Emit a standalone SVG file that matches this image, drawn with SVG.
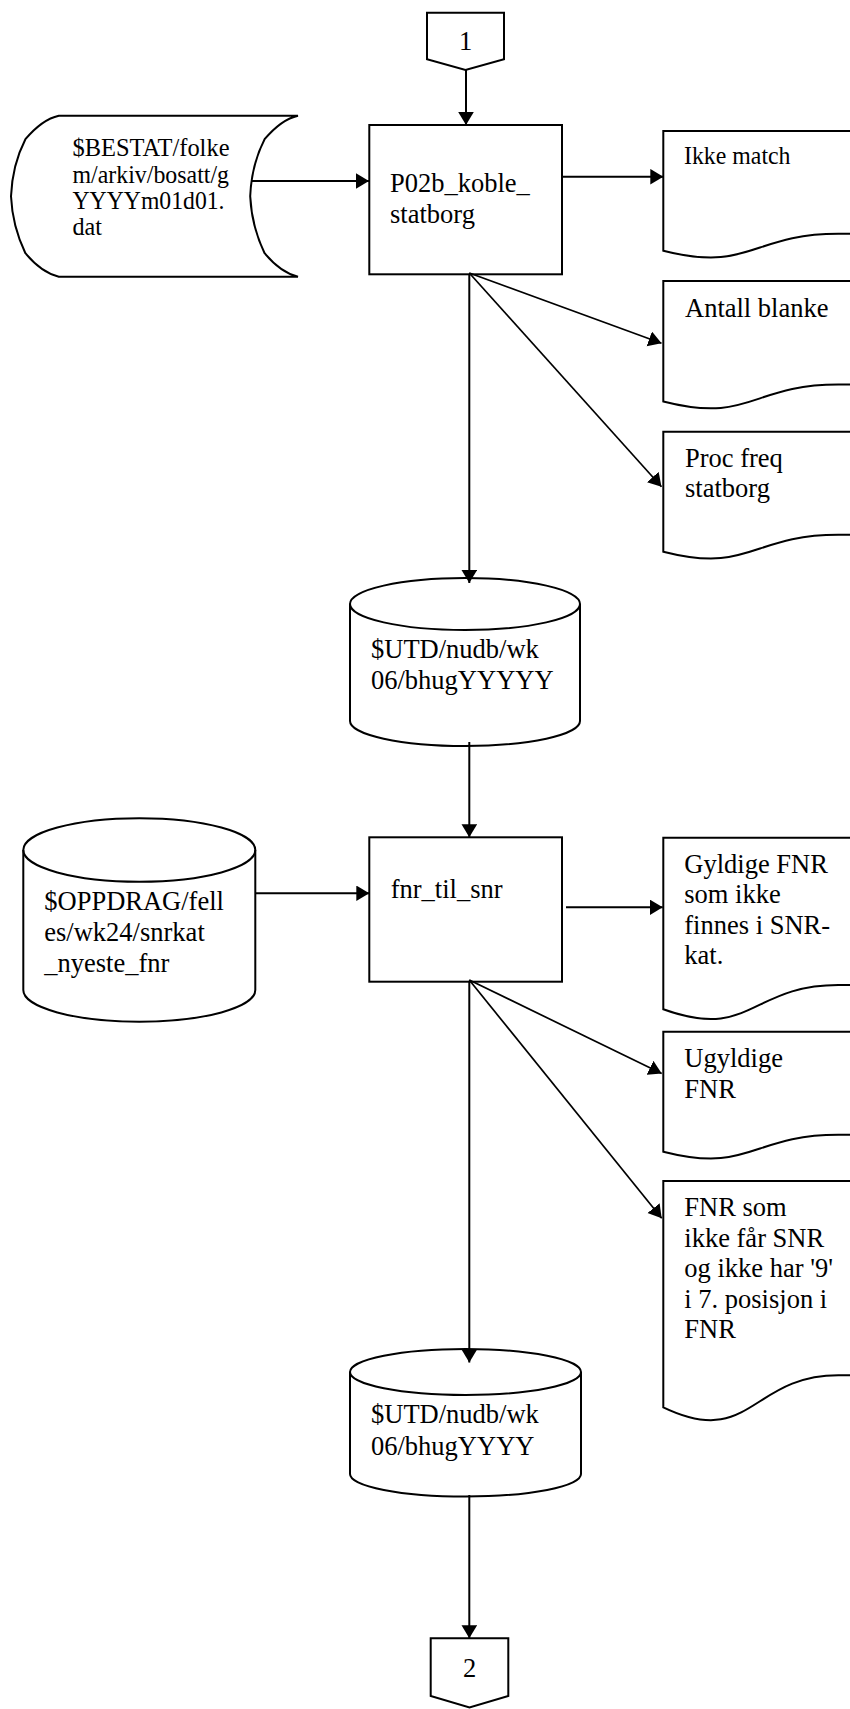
<svg xmlns="http://www.w3.org/2000/svg" width="850" height="1709" viewBox="0 0 850 1709">
  <style>
    .shape { fill: #ffffff; stroke: #000000; stroke-width: 2; }
    .edge { fill: none; stroke: #000000; stroke-width: 2; }
    .diag { fill: none; stroke: #000000; stroke-width: 1.7; }
    text { font-family: "Liberation Serif", "Times New Roman", serif; fill: #000000; font-size: 26.5px; }
    text.medium { font-size: 26px; }
    .mid { text-anchor: middle; }
  </style>
  <defs>
    <marker id="arrow" markerUnits="userSpaceOnUse" markerWidth="14" markerHeight="16" refX="13" refY="7.8" orient="auto">
      <path d="M0,0 L13,7.8 L0,15.6 Z" fill="#000000"/>
    </marker>
  </defs>

  <rect width="850" height="1709" fill="#ffffff"/>

  <!-- off-page connector 1 -->
  <g id="conn1">
    <path class="shape" d="M427,12.7 H504 V59.3 L465.5,70 L427,59.3 Z"/>
    <text class="mid" x="465.5" y="50">1</text>
  </g>

  <!-- stored data source -->
  <g id="bestat">
    <path class="shape" d="M58.8,276.7 C46.4,273.7 35.4,265.3 25.4,253.2 C17.5,236.7 12,218.2 11,196.2 C12,172.9 17.5,154.6 25.4,139.2 C35.4,127.4 46.4,118.4 58.8,115.7 L298,115.7 C285.5,118.4 274.6,127.4 264.6,139.2 C256.7,154.6 251.2,172.9 250.2,196.2 C251.2,218.2 256.7,236.7 264.6,253.2 C274.6,265.3 285.5,273.7 298,276.7 Z"/>
    <text class="medium" x="72.5" y="156" textLength="157" lengthAdjust="spacingAndGlyphs">$BESTAT/folke</text>
    <text class="medium" x="72.5" y="182.5" textLength="156.5" lengthAdjust="spacingAndGlyphs">m/arkiv/bosatt/g</text>
    <text class="medium" x="72.5" y="209" textLength="152" lengthAdjust="spacingAndGlyphs">YYYYm01d01.</text>
    <text class="medium" x="72.5" y="235" textLength="29.5" lengthAdjust="spacingAndGlyphs">dat</text>
  </g>

  <!-- process P02b -->
  <g id="p02b">
    <rect class="shape" x="369.3" y="125" width="192.7" height="149.3"/>
    <text x="390">
      <tspan x="390" y="191.7">P02b_koble_</tspan>
      <tspan x="390" y="222.7">statborg</tspan>
    </text>
  </g>

  <!-- report documents -->
  <g id="doc-ikke-match">
    <path class="shape" d="M663.3,131 H872 V233.8 H838.3 C750.8,233.8 750.8,273 663.3,250.7 Z"/>
    <text class="medium" x="684" y="164" textLength="106.5" lengthAdjust="spacingAndGlyphs">Ikke match</text>
  </g>
  <g id="doc-antall-blanke">
    <path class="shape" d="M663.3,281 H872 V384.5 H838.3 C750.8,384.5 750.8,423.9 663.3,401.5 Z"/>
    <text x="685" y="316.7">Antall blanke</text>
  </g>
  <g id="doc-proc-freq">
    <path class="shape" d="M663.3,431.7 H872 V534.8 H838.3 C750.8,534.8 750.8,574 663.3,551.7 Z"/>
    <text x="685">
      <tspan x="685" y="466.7">Proc freq</tspan>
      <tspan x="685" y="497.3">statborg</tspan>
    </text>
  </g>

  <!-- dataset bhugYYYYY -->
  <g id="utd-1">
    <path class="shape" d="M350,604 A115,26 0 0 1 580,604 V721 A115,25 0 0 1 350,721 Z"/>
    <path class="edge" d="M350,604 A115,26 0 0 0 580,604"/>
    <text x="371">
      <tspan x="371" y="658.3">$UTD/nudb/wk</tspan>
      <tspan x="371" y="689.3">06/bhugYYYYY</tspan>
    </text>
  </g>

  <!-- dataset snrkat -->
  <g id="oppdrag">
    <path class="shape" d="M23.3,850 A116,31.7 0 0 1 255.3,850 V990 A116,31.7 0 0 1 23.3,990 Z"/>
    <path class="edge" d="M23.3,850 A116,31.7 0 0 0 255.3,850"/>
    <text x="44.3">
      <tspan x="44.3" y="910">$OPPDRAG/fell</tspan>
      <tspan x="44.3" y="941.3">es/wk24/snrkat</tspan>
      <tspan x="44.3" y="971.7">_nyeste_fnr</tspan>
    </text>
  </g>

  <!-- process fnr_til_snr -->
  <g id="fnr-til-snr">
    <rect class="shape" x="369.3" y="837.3" width="192.7" height="144.4"/>
    <text x="390.7" y="897.7">fnr_til_snr</text>
  </g>

  <g id="doc-gyldige">
    <path class="shape" d="M663.3,837.7 H872 V985 H838.3 C750.8,985 750.8,1041.1 663.3,1009.3 Z"/>
    <text x="684.3">
      <tspan x="684.3" y="872.7">Gyldige FNR</tspan>
      <tspan x="684.3" y="903.3">som ikke</tspan>
      <tspan x="684.3" y="933.8">finnes i SNR-</tspan>
      <tspan x="684.3" y="964.3">kat.</tspan>
    </text>
  </g>
  <g id="doc-ugyldige">
    <path class="shape" d="M663.3,1031.7 H872 V1134.8 H838.3 C750.8,1134.8 750.8,1174 663.3,1151.7 Z"/>
    <text x="684.3">
      <tspan x="684.3" y="1066.7">Ugyldige</tspan>
      <tspan x="684.3" y="1097.7">FNR</tspan>
    </text>
  </g>
  <g id="doc-fnr-som">
    <path class="shape" d="M663.3,1181 H872 V1375.3 H838.3 C750.8,1375.3 750.8,1449.3 663.3,1407.3 Z"/>
    <text x="684.3">
      <tspan x="684.3" y="1216">FNR som</tspan>
      <tspan x="684.3" y="1246.5">ikke får SNR</tspan>
      <tspan x="684.3" y="1277">og ikke har '9'</tspan>
      <tspan x="684.3" y="1307.5">i 7. posisjon i</tspan>
      <tspan x="684.3" y="1338.3">FNR</tspan>
    </text>
  </g>

  <!-- dataset bhugYYYY -->
  <g id="utd-2">
    <path class="shape" d="M350,1372 A115.5,23 0 0 1 581,1372 V1474 A115.5,22.5 0 0 1 350,1474 Z"/>
    <path class="edge" d="M350,1372 A115.5,23 0 0 0 581,1372"/>
    <text x="371">
      <tspan x="371" y="1423.3">$UTD/nudb/wk</tspan>
      <tspan x="371" y="1455">06/bhugYYYY</tspan>
    </text>
  </g>

  <!-- off-page connector 2 -->
  <g id="conn2">
    <path class="shape" d="M430.7,1638.3 H508.3 V1696 L469.5,1707.5 L430.7,1696 Z"/>
    <text class="mid" x="469.5" y="1676.7">2</text>
  </g>

  <!-- connectors, drawn above the shapes -->
  <g id="connectors">
    <line class="edge" x1="466" y1="70" x2="466" y2="125" marker-end="url(#arrow)"/>
    <line class="edge" x1="252" y1="181" x2="369" y2="181" marker-end="url(#arrow)"/>
    <line class="edge" x1="562" y1="176.7" x2="663.3" y2="176.7" marker-end="url(#arrow)"/>
    <line class="diag" x1="469.3" y1="273" x2="661.5" y2="343.3" marker-end="url(#arrow)"/>
    <line class="diag" x1="469.3" y1="273" x2="661.5" y2="486.7" marker-end="url(#arrow)"/>
    <line class="edge" x1="469.3" y1="274" x2="469.3" y2="583" marker-end="url(#arrow)"/>
    <line class="edge" x1="469.3" y1="742" x2="469.3" y2="837.3" marker-end="url(#arrow)"/>
    <line class="edge" x1="255" y1="893.3" x2="369.3" y2="893.3" marker-end="url(#arrow)"/>
    <line class="edge" x1="566" y1="907.3" x2="662.7" y2="907.3" marker-end="url(#arrow)"/>
    <line class="diag" x1="469.3" y1="980" x2="661.7" y2="1073.5" marker-end="url(#arrow)"/>
    <line class="diag" x1="469.3" y1="980" x2="661.7" y2="1218.3" marker-end="url(#arrow)"/>
    <line class="edge" x1="469.3" y1="981.7" x2="469.3" y2="1362.5" marker-end="url(#arrow)"/>
    <line class="edge" x1="469.3" y1="1495" x2="469.3" y2="1638.3" marker-end="url(#arrow)"/>
  </g>
</svg>
